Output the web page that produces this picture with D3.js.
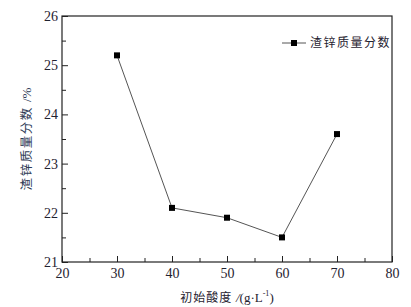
<!DOCTYPE html>
<html>
<head>
<meta charset="utf-8">
<script src="https://cdn.jsdelivr.net/npm/d3@7"></script>
<style>
  body { margin: 0; background: #fff; }
  svg { display: block; }
  .tick text { font-family: "Liberation Serif", "Times New Roman", serif; font-size: 14px; }
</style>
</head>
<body>
<div id="chart"></div>
<script>
// data
const acidity = [30, 40, 50, 60, 70];
const zincShare = [25.2, 22.1, 21.9, 21.5, 23.6];
const xTicks = [20, 30, 40, 50, 60, 70, 80];
const yTicks = [21, 22, 23, 24, 25, 26];
const seriesName = "渣锌质量分数";

const width = 411, height = 307,
  margin = { top: 16, right: 19, bottom: 45, left: 62 };

const svg = d3.select("#chart").append("svg")
  .attr("width", width)
  .attr("height", height);

const x = d3.scaleLinear().domain([20, 80]).range([margin.left, width - margin.right]);
const y = d3.scaleLinear().domain([21, 26]).range([height - margin.bottom, margin.top]);

const serif = "'Liberation Serif', 'Times New Roman', serif";
const cjk = "'Noto Sans CJK SC', sans-serif";
const ink = "#1f2230";

// minor ticks (inside)
const xAxisMinor = d3.axisBottom(x).tickValues(d3.range(25, 80, 10)).tickSize(-4).tickFormat("");
const yAxisMinor = d3.axisLeft(y).tickValues(d3.range(21.5, 26, 1)).tickSize(-4).tickFormat("");

svg.append("g")
  .attr("transform", `translate(0,${y(21)})`)
  .call(xAxisMinor)
  .call(g => g.select(".domain").remove());
svg.append("g")
  .attr("transform", `translate(${x(20)},0)`)
  .call(yAxisMinor)
  .call(g => g.select(".domain").remove());

// major axes
const xAxis = svg.append("g")
  .attr("transform", `translate(0,${y(21)})`)
  .call(d3.axisBottom(x).tickValues(xTicks).tickSize(-6).tickPadding(6).tickFormat(d3.format("d")));
const yAxis = svg.append("g")
  .attr("transform", `translate(${x(20)},0)`)
  .call(d3.axisLeft(y).tickValues(yTicks).tickSize(-6).tickPadding(4).tickFormat(d3.format("d")));

[xAxis, yAxis].forEach(g => {
  g.select(".domain").remove();
  g.attr("font-family", null).attr("font-size", null);
  g.selectAll("text").attr("fill", ink);
});
svg.selectAll(".tick line").attr("stroke", "#222");

// frame
svg.append("rect")
  .attr("x", x(20))
  .attr("y", y(26))
  .attr("width", x(80) - x(20))
  .attr("height", y(21) - y(26))
  .attr("fill", "none")
  .attr("stroke", "#222")
  .attr("stroke-width", 1.2);

// line + markers
const line = d3.line()
  .x((d, i) => x(acidity[i]))
  .y(d => y(d));

svg.append("path")
  .datum(zincShare)
  .attr("d", line)
  .attr("fill", "none")
  .attr("stroke", "#555")
  .attr("stroke-width", 1);

svg.selectAll(".pt")
  .data(zincShare)
  .join("rect")
  .attr("class", "pt")
  .attr("x", (d, i) => x(acidity[i]) - 3)
  .attr("y", d => y(d) - 3)
  .attr("width", 6)
  .attr("height", 6)
  .attr("fill", "#000");

// legend
const lg = svg.append("g").attr("transform", "translate(282,43)");
lg.append("line").attr("x1", 0).attr("x2", 24).attr("y1", 0).attr("y2", 0)
  .attr("stroke", "#555").attr("stroke-width", 1);
lg.append("rect").attr("x", 9).attr("y", -3).attr("width", 6).attr("height", 6).attr("fill", "#000");
lg.append("text")
  .attr("x", 28).attr("y", 0).attr("dy", "0.35em")
  .attr("font-family", cjk).attr("font-size", 12)
  .attr("letter-spacing", 1.5)
  .attr("fill", ink)
  .text(seriesName);

// axis titles
const xt = svg.append("text")
  .attr("x", 227).attr("y", 302)
  .attr("text-anchor", "middle")
  .attr("font-size", 12)
  .attr("fill", ink);
xt.append("tspan").attr("font-family", cjk).attr("letter-spacing", 1).text("初始酸度 ");
xt.append("tspan").attr("font-family", serif).attr("font-style", "italic").attr("font-size", 13).text("/");
xt.append("tspan").attr("font-family", serif).attr("font-size", 13).text("(g·L");
xt.append("tspan").attr("font-family", serif).attr("font-size", 8).attr("dy", -6).text("-1");
xt.append("tspan").attr("font-family", serif).attr("font-size", 13).attr("dy", 6).text(")");

const yt = svg.append("text")
  .attr("transform", `translate(31,${(y(21) + y(26)) / 2}) rotate(-90)`)
  .attr("text-anchor", "middle")
  .attr("font-size", 12.5)
  .attr("fill", "#2e3a55");
yt.append("tspan").attr("font-family", cjk).attr("letter-spacing", 1.5).text("渣锌质量分数 ");
yt.append("tspan").attr("font-family", serif).attr("font-size", 13).text("/%");
</script>
</body>
</html>
